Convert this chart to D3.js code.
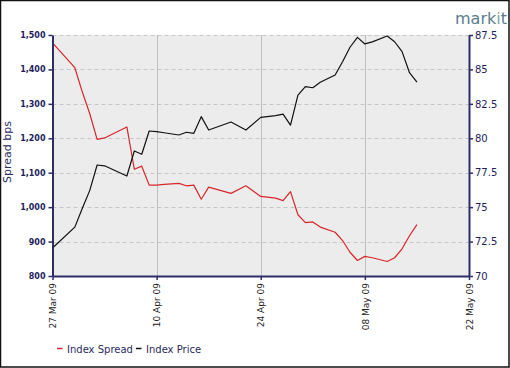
<!DOCTYPE html>
<html>
<head>
<meta charset="utf-8">
<script src="https://cdn.jsdelivr.net/npm/d3@7"></script>
<style>
  html, body { margin: 0; padding: 0; background: #fff; }
  svg { display: block; }
</style>
</head>
<body>
<script>
// ---- data ----
const dates = ["2009-03-27","2009-03-30","2009-03-31","2009-04-01","2009-04-02","2009-04-03",
  "2009-04-06","2009-04-07","2009-04-08","2009-04-09","2009-04-10","2009-04-11",
  "2009-04-13","2009-04-14","2009-04-15","2009-04-16","2009-04-17","2009-04-20",
  "2009-04-22","2009-04-24","2009-04-26","2009-04-27","2009-04-28","2009-04-29",
  "2009-04-30","2009-05-01","2009-05-02","2009-05-04","2009-05-05","2009-05-06",
  "2009-05-07","2009-05-08","2009-05-09","2009-05-11","2009-05-12","2009-05-13",
  "2009-05-14","2009-05-15"];
const indexSpread = [1477,1405,1335,1272,1197,1201,
  1233,1110,1119,1064,1064,1066,
  1069,1062,1064,1023,1058,1040,
  1062,1031,1026,1019,1045,978,
  955,957,942,927,903,869,
  845,857,853,842,853,879,
  917,949];
const indexPrice = [72.03,73.55,74.9,76.2,78.06,78.0,
  77.26,79.08,78.84,80.53,80.48,80.4,
  80.24,80.44,80.36,81.57,80.6,81.18,
  80.6,81.52,81.65,81.76,80.96,83.14,
  83.75,83.67,84.07,84.6,85.56,86.61,
  87.33,86.85,87.0,87.43,87.01,86.29,
  84.76,84.07];
const xTickDates = ["2009-03-27","2009-04-10","2009-04-24","2009-05-08","2009-05-22"];
const leftTicks = [800,900,1000,1100,1200,1300,1400,1500];
const rightTicks = [70,72.5,75,77.5,80,82.5,85,87.5];
const seriesNames = ["Index Spread","Index Price"];
const yTitle = "Spread bps";

const W = 510, H = 368;
const parse = d3.timeParse("%Y-%m-%d");
const navy = "#2d2d6a";

const svg = d3.select("body").append("svg").attr("width", W).attr("height", H);

// outer border
svg.append("rect").attr("x", 0.5).attr("y", 0.5).attr("width", W - 1.5).attr("height", H - 1.5)
  .attr("fill", "#fff").attr("stroke", "#111").attr("stroke-width", 1.5);

const L = 52.5, R = 469, T = 35, B = 276;
const x = d3.scaleTime().domain([parse(xTickDates[0]), parse(xTickDates[xTickDates.length - 1])]).range([L, R]);
const yL = d3.scaleLinear().domain([800, 1500]).range([B, T]);
const yR = d3.scaleLinear().domain([70, 87.5]).range([B, T]);

// plot background
svg.append("rect").attr("x", L).attr("y", T).attr("width", R - L).attr("height", B - T).attr("fill", "#ececec");

// horizontal dashed grid
svg.append("g").selectAll("line").data(leftTicks.filter(d => d > 800)).join("line")
  .attr("x1", L).attr("x2", R).attr("y1", d => Math.round(yL(d)) + 0.5).attr("y2", d => Math.round(yL(d)) + 0.5)
  .attr("stroke", "#c6c6c6").attr("stroke-dasharray", "4,3");

// vertical grid
svg.append("g").selectAll("line").data(xTickDates.slice(1, -1)).join("line")
  .attr("x1", d => Math.round(x(parse(d))) + 0.5).attr("x2", d => Math.round(x(parse(d))) + 0.5)
  .attr("y1", T).attr("y2", B).attr("stroke", "#bdbdbd");

// lines
const pts = dates.map((d, i) => ({ date: parse(d), s: indexSpread[i], p: indexPrice[i] }));
svg.append("path").datum(pts)
  .attr("d", d3.line().x(d => x(d.date)).y(d => yL(d.s)))
  .attr("fill", "none").attr("stroke", "#d8262a").attr("stroke-width", 1.2).attr("stroke-linejoin", "round");
svg.append("path").datum(pts)
  .attr("d", d3.line().x(d => x(d.date)).y(d => yR(d.p)))
  .attr("fill", "none").attr("stroke", "#111").attr("stroke-width", 1.2).attr("stroke-linejoin", "round");

function styleAxis(g) {
  g.select(".domain").attr("stroke", navy).attr("stroke-width", 2);
  g.selectAll(".tick line").attr("stroke", navy).attr("stroke-width", 1.5);
}

// left axis
const gl = svg.append("g").attr("transform", `translate(${L},0)`)
  .call(d3.axisLeft(yL).tickValues(leftTicks).tickFormat(d3.format(",")).tickSize(4).tickPadding(3).tickSizeOuter(0));
styleAxis(gl);
gl.selectAll("text").attr("fill", "#1e1e5c").style("font-family", "DejaVu Sans").style("font-size", "8px").style("font-weight", "bold");

// right axis
const gr = svg.append("g").attr("transform", `translate(${R},0)`)
  .call(d3.axisRight(yR).tickValues(rightTicks).tickFormat(d => String(d)).tickSize(4).tickPadding(2).tickSizeOuter(0));
styleAxis(gr);
gr.selectAll("text").attr("fill", "#1e1e5c").style("font-family", "DejaVu Sans").style("font-size", "10px");

// bottom axis
const gb = svg.append("g").attr("transform", `translate(0,${B})`)
  .call(d3.axisBottom(x).tickValues(xTickDates.map(parse)).tickFormat(d3.timeFormat("%d %b %y")).tickSize(4).tickSizeOuter(0));
styleAxis(gb);
gb.selectAll("text")
  .attr("x", -7).attr("y", 0).attr("dy", "0.35em").attr("transform", "rotate(-90)")
  .style("text-anchor", "end").attr("fill", "#222")
  .style("font-family", "DejaVu Sans").style("font-size", "9px");

// y title
svg.append("text").attr("transform", "translate(11,152) rotate(-90)")
  .attr("text-anchor", "middle").attr("fill", "#2a2a5e")
  .style("font-family", "DejaVu Sans").style("font-size", "11px").text(yTitle);

// legend
const legend = svg.append("g").style("font-family", "DejaVu Sans").style("font-size", "10px");
const legX = [57, 136], legCol = ["#d8262a", "#111"];
seriesNames.forEach((n, i) => {
  legend.append("line").attr("x1", legX[i]).attr("x2", legX[i] + 5.5).attr("y1", 348.5).attr("y2", 348.5)
    .attr("stroke", legCol[i]).attr("stroke-width", 1.5);
  legend.append("text").attr("x", legX[i] + 10).attr("y", 352.5).attr("fill", "#2a2a5e").text(n);
});

// markit logo
const logo = svg.append("text").attr("x", 455).attr("y", 24)
  .style("font-family", "DejaVu Sans").style("font-size", "16px").attr("fill", "#5a7d8e");
logo.append("tspan").text("mark");
logo.append("tspan").text("i").attr("fill", "#7fa89a");
logo.append("tspan").text("t");
</script>
</body>
</html>
